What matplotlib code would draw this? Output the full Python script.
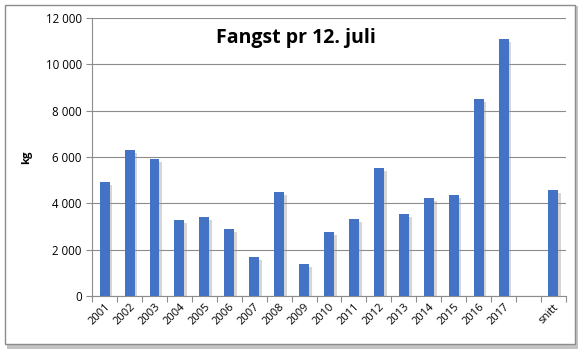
import numpy as np
import matplotlib
matplotlib.use("Agg")
import matplotlib.pyplot as plt
import matplotlib.patheffects as pe
from matplotlib.patches import Rectangle
from matplotlib.ticker import FuncFormatter

# data
years = ['2001', '2002', '2003', '2004', '2005', '2006', '2007', '2008', '2009',
         '2010', '2011', '2012', '2013', '2014', '2015', '2016', '2017', '', 'snitt']
fangst = [4920, 6300, 5910, 3280, 3400, 2890, 1680, 4490, 1380,
          2760, 3320, 5520, 3540, 4230, 4360, 8500, 11090, 0, 4570]

plt.rcParams['font.family'] = ['Open Sans', 'DejaVu Sans']

fig = plt.figure(figsize=(5.87, 3.53), dpi=100)
fig.patch.set_facecolor('white')

# chart border with shadow
shadow = Rectangle((0.012, 0.012), 0.973, 0.97, transform=fig.transFigure,
                   facecolor='#c4c4c4', edgecolor='none', zorder=0)
box = Rectangle((0.008, 0.025), 0.972, 0.962, transform=fig.transFigure,
                facecolor='white', edgecolor='#8c8c8c', linewidth=1.0, zorder=1)
fig.patches.extend([shadow, box])

ax = fig.add_axes([0.157, 0.161, 0.807, 0.788])
ax.set_facecolor('none')
ax.set_zorder(2)

x = np.arange(len(years))
bars = ax.bar(x, fangst, width=0.4, color='#4472c4', zorder=3)
for b in bars:
    b.set_path_effects([pe.SimplePatchShadow(offset=(2, -2), shadow_rgbFace='#999999', alpha=0.4),
                        pe.Normal()])

ax.set_xlim(-0.5, len(years) - 0.5)
ax.set_ylim(0, 12000)
ax.set_yticks(np.arange(0, 12001, 2000))
ax.yaxis.set_major_formatter(FuncFormatter(lambda v, p: f"{int(v):,}".replace(',', ' ')))
ax.grid(axis='y', color='#8c8c8c', linewidth=0.8, zorder=0)

# tick marks between categories, labels at centres
ax.set_xticks(np.arange(-0.5, len(years), 1.0))
ax.set_xticklabels([])
ax.set_xticks(x, minor=True)
ax.set_xticklabels(years, minor=True, rotation=45, ha='right', rotation_mode='anchor', fontsize=8)
ax.tick_params(axis='x', which='minor', length=0, pad=4)
ax.tick_params(axis='x', which='major', length=4, color='#8c8c8c')
ax.tick_params(axis='y', length=4, color='#8c8c8c', labelsize=8.3)

for s in ['top', 'right']:
    ax.spines[s].set_visible(False)
ax.spines['left'].set_color('#8c8c8c')
ax.spines['bottom'].set_color('#8c8c8c')

ax.set_ylabel('kg', fontsize=8, fontweight='bold', labelpad=10)
ax.text(0.43, 0.965, 'Fangst pr 12. juli', transform=ax.transAxes, ha='center', va='top',
        fontsize=14, fontweight='bold')

fig.savefig('out.png', dpi=100)
